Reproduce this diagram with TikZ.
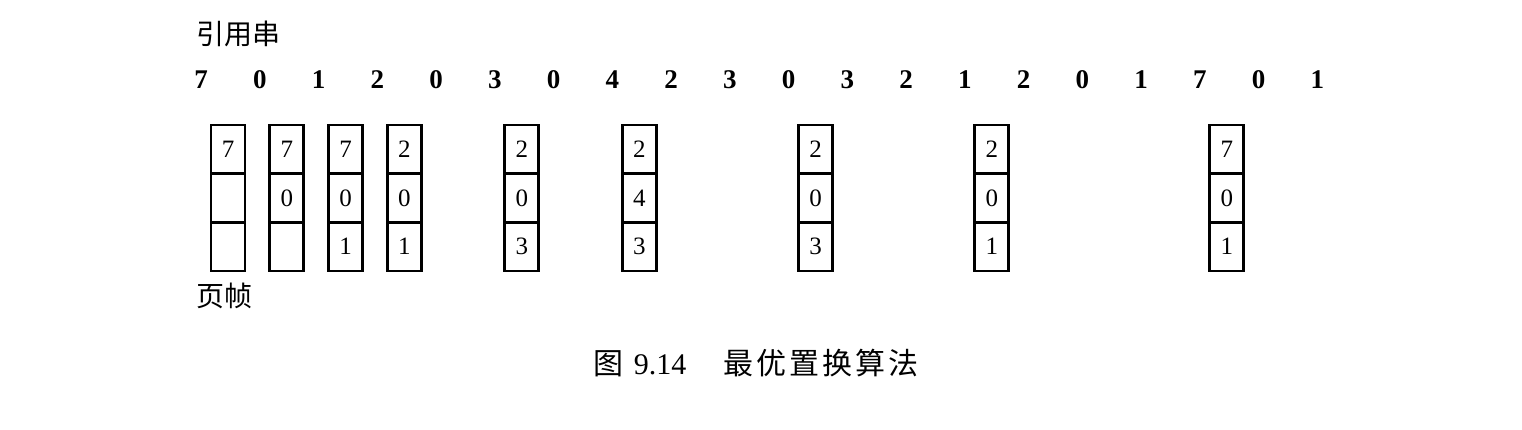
\documentclass[tikz,border=0pt]{standalone}
\usepackage{fontspec}
\setmainfont{Liberation Serif}
\newfontfamily\cjk{Noto Sans CJK SC}
\newcommand\cs{\hspace{3pt}}
\begin{document}
\begin{tikzpicture}[x=1pt,y=-1pt,
  refnum/.style={inner sep=0pt,font=\bfseries\fontsize{27}{30}\selectfont},
  cell/.style={draw,line width=2.6pt,minimum width=34pt,minimum height=48.7pt,inner sep=0pt,
    font=\fontsize{25}{27}\selectfont},
  lab/.style={inner sep=0pt,font=\cjk\fontsize{28}{30}\selectfont}]
\useasboundingbox (0,0) rectangle (1522,430);
% label
\node[lab,anchor=west] (title) at (196,34) {引用串};
% reference string
\foreach \v [count=\i from 0] in {7,0,1,2,0,3,0,4,2,3,0,3,2,1,2,0,1,7,0,1}
  \node[refnum] (s\i) at ({201+58.75*\i},80) {\v};
% frames
\foreach \c/\a/\b/\d in {0/7/{}/{},1/7/0/{},2/7/0/1,3/2/0/1,5/2/0/3,7/2/4/3,10/2/0/3,13/2/0/1,17/7/0/1}{
  \node[cell] (b\c-1) at ({228+58.75*\c},149.3) {\a};
  \node[cell] (b\c-2) at ({228+58.75*\c},198) {\b};
  \node[cell] (b\c-3) at ({228+58.75*\c},246.7) {\d};
}
\node[lab,anchor=west] (frames) at (196,296) {页帧};
% caption
\node[inner sep=0pt] (cap) at (756,363) {\cjk\fontsize{30}{32}\selectfont 图\hspace{10pt}{\rmfamily 9.14}\hspace{37pt}最\cs 优\cs 置\cs 换\cs 算\cs 法};
\end{tikzpicture}
\end{document}
